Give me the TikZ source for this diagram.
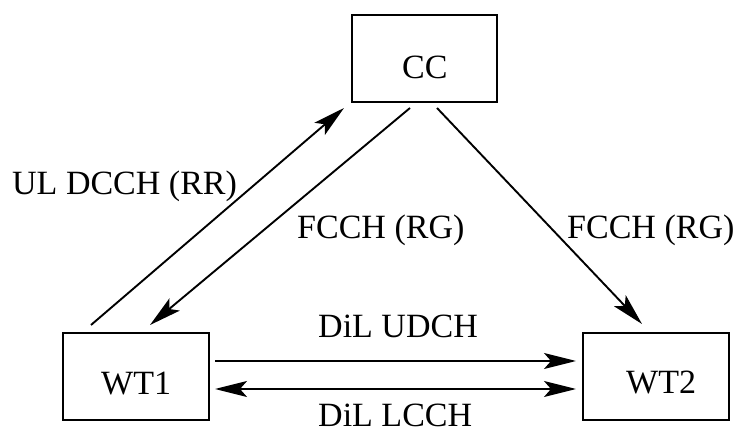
\documentclass[tikz,border=0pt]{standalone}
\usepackage{fontspec}
\setmainfont{Liberation Serif}
\usetikzlibrary{arrows.meta}
\begin{document}
\begin{tikzpicture}[x=1pt,y=-1pt,
  boxnode/.style={draw,line width=1.9pt,inner sep=0pt},
  lbl/.style={inner sep=0pt,anchor=base west,font=\fontsize{34}{40}\selectfont},
  conn/.style={line width=1.9pt,-{Stealth[length=32pt,width=16pt,inset=7pt]}},
  dconn/.style={line width=1.9pt,{Stealth[length=32pt,width=16pt,inset=7pt]}-{Stealth[length=32pt,width=16pt,inset=7pt]}}]
\useasboundingbox (0,0) rectangle (734,430);
% boxes
\node[boxnode,minimum width=145pt,minimum height=87pt] (cc) at (424.5,58.5) {};
\node[boxnode,minimum width=146pt,minimum height=87pt] (wt1) at (136,376.5) {};
\node[boxnode,minimum width=146pt,minimum height=87pt] (wt2) at (656,376.5) {};
% box texts
\node[lbl] (cct) at (402,79) {CC};
\node[lbl] (wt1t) at (101,395) {WT1};
\node[lbl] (wt2t) at (626,393) {WT2};
% connector end points
\coordinate (a1) at (91,325);
\coordinate (a2) at (344,108);
\coordinate (b1) at (410,108);
\coordinate (b2) at (150,325);
\coordinate (c1) at (437,108);
\coordinate (c2) at (642,324);
\coordinate (d1) at (215,361);
\coordinate (d2) at (576,361);
\coordinate (e1) at (215,389);
\coordinate (e2) at (576,389);
\draw[conn] (a1) -- (a2);
\draw[conn] (b1) -- (b2);
\draw[conn] (c1) -- (c2);
\draw[conn] (d1) -- (d2);
\draw[dconn] (e1) -- (e2);
% labels
\node[lbl] (l1) at (12,195) {UL DCCH (RR)};
\node[lbl] (l2) at (297,239) {FCCH (RG)};
\node[lbl] (l3) at (567,239) {FCCH (RG)};
\node[lbl] (l4) at (318,338) {DiL UDCH};
\node[lbl] (l5) at (318,426) {DiL LCCH};
\end{tikzpicture}
\end{document}
